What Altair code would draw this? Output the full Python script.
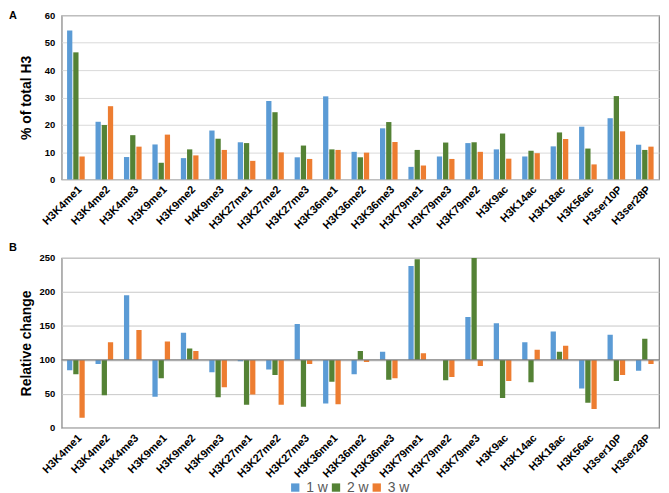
import altair as alt
import pandas as pd

weeks = ["1 w", "2 w", "3 w"]
colors = ["#5B9BD5", "#548235", "#ED7D31"]

cats_top = ["H3K4me1", "H3K4me2", "H3K4me3", "H3K9me1", "H3K9me2", "H4K9me3", "H3K27me1",
            "H3K27me2", "H3K27me3", "H3K36me1", "H3K36me2", "H3K36me3", "H3K79me1", "H3K79me3",
            "H3K79me2", "H3K9ac", "H3K14ac", "H3K18ac", "H3K56ac", "H3ser10P", "H3ser28P"]
top_1w = [54.5, 21.1, 8.2, 12.8, 7.8, 17.9, 13.6, 28.7, 8.1, 30.4, 10.1, 18.7, 4.6, 8.4,
          13.3, 11.0, 8.4, 12.1, 19.3, 22.4, 12.7]
top_2w = [46.5, 19.9, 16.2, 6.1, 11.0, 14.9, 13.3, 24.6, 12.4, 11.0, 8.1, 21.0, 10.8, 13.5,
          13.6, 16.8, 10.5, 17.2, 11.3, 30.5, 10.8]
top_3w = [8.4, 26.8, 12.0, 16.4, 8.8, 10.8, 6.8, 9.9, 7.5, 10.8, 9.8, 13.7, 5.1, 7.5,
          10.1, 7.6, 9.6, 14.8, 5.5, 17.6, 12.0]

cats_bot = ["H3K4me1", "H3K4me2", "H3K4me3", "H3K9me1", "H3K9me2", "H3K9me3", "H3K27me1",
            "H3K27me2", "H3K27me3", "H3K36me1", "H3K36me2", "H3K36me3", "H3K79me1", "H3K79me2",
            "H3K79me3", "H3K9ac", "H3K14ac", "H3K18ac", "H3K56ac", "H3ser10P", "H3ser28P"]
bot_1w = [85, 94, 195, 46, 140, 82, 98, 86, 153, 36, 79, 112, 238, 100, 163, 154, 126, 142,
          58, 137, 84]
bot_2w = [79, 48, 100, 73, 117, 45, 34, 78, 31, 68, 113, 71, 248, 70, 250, 44, 67, 112,
          37, 69, 131]
bot_3w = [15, 126, 144, 127, 113, 60, 49, 34, 94, 35, 97, 73, 110, 75, 91, 69, 115, 121,
          28, 78, 94]


def long(cats, a, b, c):
    rows = []
    for i, cat in enumerate(cats):
        for w, vals in zip(weeks, (a, b, c)):
            rows.append({"cat": cat, "week": w, "value": vals[i], "base": 100})
    return pd.DataFrame(rows)


df_top = long(cats_top, top_1w, top_2w, top_3w)
df_bot = long(cats_bot, bot_1w, bot_2w, bot_3w)

W = 601
FONT = "Liberation Sans"

color = alt.Color("week:N", scale=alt.Scale(domain=weeks, range=colors),
                  legend=alt.Legend(title=None, orient="none", direction="horizontal",
                                    legendX=228, legendY=468, symbolType="square",
                                    symbolSize=70, labelFontSize=14, labelColor="#595959",
                                    labelFont=FONT, columnPadding=1, labelOffset=4,
                                    symbolStrokeWidth=0))


def xenc(cats):
    return alt.X("cat:N", sort=cats, title=None,
                 scale=alt.Scale(paddingInner=0.38, paddingOuter=0.19),
                 axis=alt.Axis(labelAngle=-45, labelAlign="right", labelBaseline="top",
                               labelFontSize=11, labelFontWeight="bold", labelColor="#000",
                               labelPadding=4, ticks=False, domain=False, labelFont=FONT,
                               labelOverlap=False))


xoff = alt.XOffset("week:N", sort=weeks, scale=alt.Scale(paddingInner=0.15))

H1 = 165
H2 = 171

top_bars = alt.Chart(df_top).mark_bar().encode(
    x=xenc(cats_top),
    xOffset=xoff,
    y=alt.Y("value:Q", scale=alt.Scale(domain=[0, 60], nice=False),
            axis=alt.Axis(values=[0, 10, 20, 30, 40, 50, 60], title="% of total H3",
                          titleFontSize=14, titleFontWeight="bold", titleColor="#000",
                          titleFont=FONT, titleX=-28, titleY=H1 / 2,
                          labelFontSize=9.5, labelFontWeight="bold", labelColor="#000",
                          labelFont=FONT, labelPadding=7, ticks=False, domain=False,
                          gridColor="#d9d9d9")),
    color=color,
)
label_a = alt.Chart(pd.DataFrame({"t": ["A"]})).mark_text(
    fontSize=11, fontWeight="bold", font=FONT, align="left", baseline="top", color="#000"
).encode(text="t:N", x=alt.value(-53), y=alt.value(-5))

top = alt.layer(top_bars, label_a).properties(width=W, height=H1)

bot_axis = alt.Axis(values=[0, 50, 100, 150, 200, 250], title="Relative change",
                    titleFontSize=14, titleFontWeight="bold", titleColor="#000",
                    titleFont=FONT, titleX=-28, titleY=H2 / 2,
                    labelFontSize=9.5, labelFontWeight="bold", labelColor="#000",
                    labelFont=FONT, labelPadding=7, ticks=False, domain=False,
                    gridColor="#c8c8c8")
bot_scale = alt.Scale(domain=[0, 250], nice=False)

bot_bars = alt.Chart(df_bot).mark_bar(clip=True).encode(
    x=xenc(cats_bot),
    xOffset=xoff,
    y=alt.Y("value:Q", scale=bot_scale, axis=bot_axis),
    y2="base:Q",
    color=color,
)
base_rule = alt.Chart(pd.DataFrame({"value": [100]})).mark_rule(
    color="#7f7f7f", strokeWidth=1.2).encode(y=alt.Y("value:Q", scale=bot_scale, axis=bot_axis))
label_b = alt.Chart(pd.DataFrame({"t": ["B"]})).mark_text(
    fontSize=11, fontWeight="bold", font=FONT, align="left", baseline="top", color="#000"
).encode(text="t:N", x=alt.value(-53), y=alt.value(-16))

bot = alt.layer(bot_bars, base_rule, label_b).properties(width=W, height=H2)

chart = alt.vconcat(top, bot, spacing=79, bounds="flush").properties(
    padding={"left": 0, "top": 0, "right": 0, "bottom": 0}
).configure_view(stroke="#808080", strokeWidth=1.2)

chart.save("out.html", embed_options={"renderer": "svg", "actions": False})
